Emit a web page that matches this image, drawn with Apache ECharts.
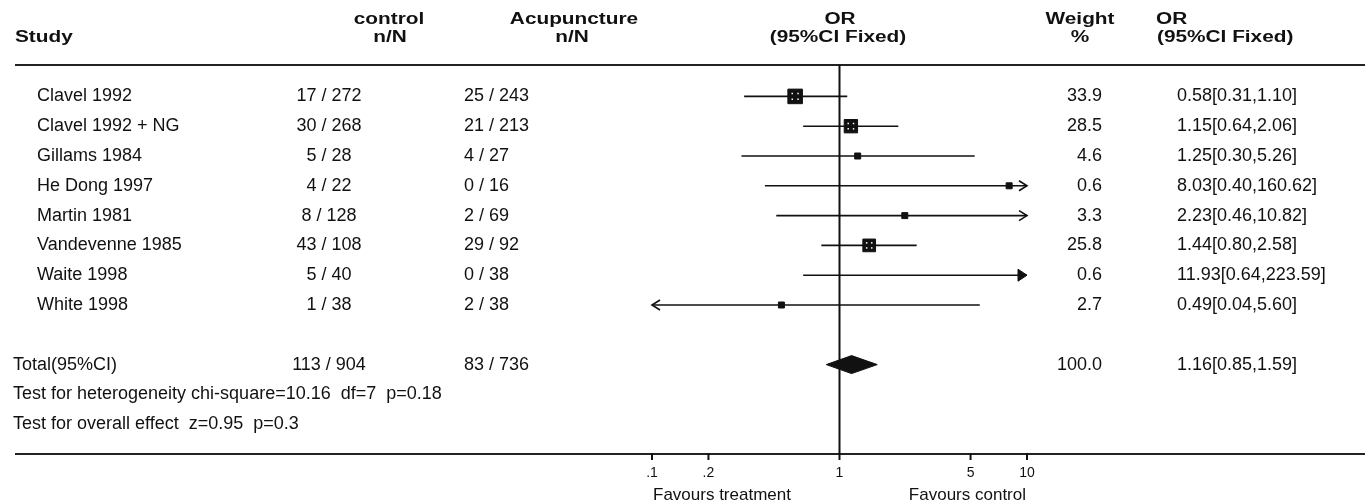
<!DOCTYPE html>
<html>
<head>
<meta charset="utf-8">
<script src="https://cdn.jsdelivr.net/npm/echarts@6/dist/echarts.min.js"></script>
<style>html,body{margin:0;padding:0;background:#fff}#c{width:1367px;height:504px}</style>
</head>
<body>
<div id="c"></div>
<script>
// ---------------- data ----------------
const studies = ['Clavel 1992','Clavel 1992 + NG','Gillams 1984','He Dong 1997','Martin 1981','Vandevenne 1985','Waite 1998','White 1998'];
const ctrlEvents = [17,30,5,4,8,43,5,1];
const ctrlTotals = [272,268,28,22,128,108,40,38];
const acuEvents  = [25,21,4,0,2,29,0,2];
const acuTotals  = [243,213,27,16,69,92,38,38];
const weights    = [33.9,28.5,4.6,0.6,3.3,25.8,0.6,2.7];
const orValues   = [0.58,1.15,1.25,8.03,2.23,1.44,11.93,0.49];
const ciLow      = [0.31,0.64,0.30,0.40,0.46,0.80,0.64,0.04];
const ciHigh     = [1.10,2.06,5.26,160.62,10.82,2.58,223.59,5.60];

const totalLabel  = 'Total(95%CI)';
const totalCtrl   = [113,904];
const totalAcu    = [83,736];
const totalWeight = 100.0;
const totalOR     = [1.16,0.85,1.59];   // estimate, low, high

const testLines = ['Test for heterogeneity chi-square=10.16  df=7  p=0.18','Test for overall effect  z=0.95  p=0.3'];

const tickValues = [0.1,0.2,1,5,10];
const tickLabels = ['.1','.2','1','5','10'];
const favourLabels = ['Favours treatment','Favours control'];

const headerTop    = ['control','Acupuncture','OR','Weight','OR'];
const headerBottom = ['Study','n/N','n/N','(95%CI Fixed)','%','(95%CI Fixed)'];

// ---------------- layout ----------------
const AXIS_MIN = 0.1, AXIS_MAX = 10, NULL_OR = 1;
const studyRows = studies.map((s,i)=>i);
const TOTAL_ROW = 9, TEST_ROWS = [10,11], RULE_ROW = -1.05, AXIS_ROW = 12;
const BODY_FONT = '18px "Liberation Sans", Arial, sans-serif';
const HEAD_FONT = 'bold 16px "Liberation Sans", Arial, sans-serif';
const INK = '#111';

function fmt2(v){ return v.toFixed(2); }
const ctrlText = ctrlEvents.map((e,i)=>e+' / '+ctrlTotals[i]);
const acuText  = acuEvents.map((e,i)=>e+' / '+acuTotals[i]);
const wText    = weights.map(w=>w.toFixed(1));
const orText   = orValues.map((v,i)=>fmt2(v)+'['+fmt2(ciLow[i])+','+fmt2(ciHigh[i])+']');

function textColumn(texts, rows, xPx, align, font){
  return {
    type:'custom', coordinateSystem:'cartesian2d', silent:true, clip:false,
    data: texts.map((t,i)=>[NULL_OR, rows[i]]),
    renderItem:function(params, api){
      const y = api.coord([NULL_OR, api.value(1)])[1];
      return {type:'text', x:xPx, y:y, style:{text:texts[params.dataIndex], font:font, fill:INK,
        align:align, textAlign:align, verticalAlign:'middle', textVerticalAlign:'middle'}};
    }
  };
}

const allRows = studyRows.concat([TOTAL_ROW]);

const series = [
  textColumn(studies, studyRows, 37, 'left', BODY_FONT),
  textColumn([totalLabel].concat(testLines), [TOTAL_ROW].concat(TEST_ROWS), 13, 'left', BODY_FONT),
  textColumn(ctrlText.concat([totalCtrl[0]+' / '+totalCtrl[1]]), allRows, 329, 'center', BODY_FONT),
  textColumn(acuText.concat([totalAcu[0]+' / '+totalAcu[1]]), allRows, 464, 'left', BODY_FONT),
  textColumn(wText.concat([totalWeight.toFixed(1)]), allRows, 1102, 'right', BODY_FONT),
  textColumn(orText.concat([fmt2(totalOR[0])+'['+fmt2(totalOR[1])+','+fmt2(totalOR[2])+']']), allRows, 1177, 'left', BODY_FONT),
  // null line
  {
    type:'line', silent:true, symbol:'none', animation:false,
    data:[[NULL_OR, RULE_ROW],[NULL_OR, AXIS_ROW]],
    lineStyle:{color:INK, width:2}
  },
  // tick marks hanging below the axis rule, placed through the log scale
  {
    type:'custom', coordinateSystem:'cartesian2d', silent:true, clip:false, z:20,
    data: tickValues.map(v=>[v, AXIS_ROW]),
    renderItem:function(params, api){
      const p = api.coord([api.value(0), api.value(1)]);
      return {type:'line', shape:{x1:p[0], y1:p[1]-1, x2:p[0], y2:p[1]+6}, style:{stroke:INK, lineWidth:2}};
    }
  },
  // study CIs and squares
  {
    type:'custom', coordinateSystem:'cartesian2d', silent:true, clip:false,
    data: orValues.map((v,i)=>[v, studyRows[i], ciLow[i], ciHigh[i], weights[i]]),
    renderItem:function(params, api){
      const row = api.value(1), or = api.value(0), lo = api.value(2), hi = api.value(3), w = api.value(4);
      const y = api.coord([NULL_OR,row])[1];
      const xMin = api.coord([AXIS_MIN,row])[0], xMax = api.coord([AXIS_MAX,row])[0];
      const xl = lo < AXIS_MIN ? xMin : api.coord([lo,row])[0];
      const xr = hi > AXIS_MAX ? xMax : api.coord([hi,row])[0];
      const st = {stroke:INK, lineWidth:1.6, fill:null};
      const ch = [{type:'line', shape:{x1:xl,y1:y,x2:xr,y2:y}, style:st}];
      if (lo < AXIS_MIN){
        ch.push({type:'polyline', shape:{points:[[xl+8,y-5],[xl,y],[xl+8,y+5]]}, style:st});
      }
      if (hi > AXIS_MAX){
        if (or > AXIS_MAX){
          ch.push({type:'polygon', shape:{points:[[xr-9,y-6],[xr,y],[xr-9,y+6]]}, style:{fill:INK, stroke:INK, lineWidth:1}});
        } else {
          ch.push({type:'polyline', shape:{points:[[xr-8,y-5],[xr,y],[xr-8,y+5]]}, style:st});
        }
      }
      if (or >= AXIS_MIN && or <= AXIS_MAX){
        const s = Math.max(6, 2.5*Math.sqrt(w));
        const x = api.coord([or,row])[0];
        ch.push({type:'rect', shape:{x:x-s/2, y:y-s/2, width:s, height:s}, style:{fill:INK, stroke:INK, lineWidth:1}});
        if (s >= 10){
          for (let dx=-1; dx<=1; dx+=2) for (let dy=-1; dy<=1; dy+=2){
            ch.push({type:'rect', shape:{x:x+dx*s/5-0.75, y:y+dy*s/5-0.75, width:1.5, height:1.5}, style:{fill:'#fff'}});
          }
        }
      }
      return {type:'group', children:ch};
    }
  },
  // pooled diamond
  {
    type:'custom', coordinateSystem:'cartesian2d', silent:true, clip:false,
    data:[[totalOR[0], TOTAL_ROW, totalOR[1], totalOR[2]]],
    renderItem:function(params, api){
      const row = api.value(1);
      const c = api.coord([api.value(0),row]);
      const l = api.coord([api.value(2),row])[0], r = api.coord([api.value(3),row])[0];
      return {type:'polygon', shape:{points:[[l,c[1]],[c[0],c[1]-9],[r,c[1]],[c[0],c[1]+9]]}, style:{fill:INK, stroke:INK, lineWidth:1}};
    }
  }
];

function headText(t, x, y, align){
  return {type:'text', x:x, y:y, scaleX:1.3, silent:true,
    style:{text:t, font:HEAD_FONT, fill:INK, textAlign:align, textVerticalAlign:'middle'}};
}

const H1 = 19.5, H2 = 37.5;
const graphic = [
  headText(headerTop[0], 389, H1, 'center'),
  headText(headerTop[1], 574, H1, 'center'),
  headText(headerTop[2], 840, H1, 'center'),
  headText(headerTop[3], 1080, H1, 'center'),
  headText(headerTop[4], 1156, H1, 'left'),
  headText(headerBottom[0], 15, H2, 'left'),
  headText(headerBottom[1], 390, H2, 'center'),
  headText(headerBottom[2], 572, H2, 'center'),
  headText(headerBottom[3], 838, H2, 'center'),
  headText(headerBottom[4], 1080, H2, 'center'),
  headText(headerBottom[5], 1157, H2, 'left'),
  {type:'line', silent:true, z:-10, shape:{x1:15,y1:65,x2:1365,y2:65}, style:{stroke:'#222', lineWidth:2}},
  {type:'line', silent:true, z:-10, shape:{x1:15,y1:454,x2:1365,y2:454}, style:{stroke:'#222', lineWidth:2}},
  {type:'text', x:653, y:495.5, silent:true, style:{text:favourLabels[0], font:'17px "Liberation Sans", Arial, sans-serif', fill:INK, textAlign:'left', textVerticalAlign:'middle'}},
  {type:'text', x:1026, y:495.5, silent:true, style:{text:favourLabels[1], font:'17px "Liberation Sans", Arial, sans-serif', fill:INK, textAlign:'right', textVerticalAlign:'middle'}}
];

const chart = echarts.init(document.getElementById('c'), null, {renderer:'canvas'});
chart.setOption({
  animation:false,
  backgroundColor:'#fff',
  grid:{left:652, right:340, top:7, bottom:50, outerBoundsMode:'none', containLabel:false},
  xAxis:{
    type:'log', logBase:10, min:AXIS_MIN, max:AXIS_MAX, position:'bottom',
    axisLine:{show:false, onZero:false},
    axisTick:{show:false},
    axisLabel:{show:true, customValues:tickValues, margin:12, color:INK, fontSize:14, fontFamily:'"Liberation Sans", Arial, sans-serif',
      formatter:function(v){
        for (let i=0;i<tickValues.length;i++){ if (Math.abs(Math.log10(v)-Math.log10(tickValues[i]))<1e-6) return tickLabels[i]; }
        return '';
      }},
    splitLine:{show:false}, minorTick:{show:false}
  },
  yAxis:{type:'value', inverse:true, min:-3, max:12, show:false, splitLine:{show:false}},
  graphic:graphic,
  series:series
});
</script>
</body>
</html>
